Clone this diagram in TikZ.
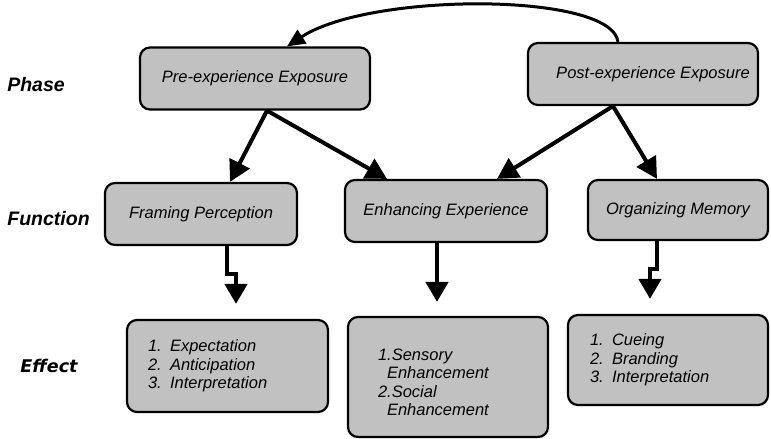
\documentclass[tikz,border=0pt]{standalone}
\usepackage{fontspec}
\setmainfont{Liberation Sans}
\newfontfamily\effectfont{DejaVu Sans}
\usetikzlibrary{arrows.meta,calc}
\definecolor{boxgray}{RGB}{193,193,193}
\begin{document}
\begin{tikzpicture}[x=1pt,y=-1pt,
  box/.style={draw=black, line width=2.2pt, rounded corners=10pt, fill=boxgray,
    font=\fontsize{16.5}{18.5}\selectfont\itshape, inner sep=0pt},
  lbl/.style={font=\fontsize{19.5}{22}\selectfont\bfseries\itshape},
  arr/.style={line width=4pt, -{Triangle[length=21pt,width=22pt]}},
  arrv/.style={line width=4.5pt, -{Triangle[length=20pt,width=22pt]}},
  arrc/.style={line width=3pt, -{Triangle[length=18pt,width=16pt]}},
  ]
\useasboundingbox (0,0) rectangle (771,439);

% row labels
\node[lbl] (phase) at (36,85) {Phase};
\node[lbl] (function) at (48.5,218.5) {Function};
\node[font=\effectfont\fontsize{17.5}{20}\selectfont\bfseries\itshape] (effect) at (49,366) {Effect};

% phase boxes
\node[box, minimum width=230pt, minimum height=62pt] (pre) at (255,78.5) {Pre-experience Exposure};
\node[box, minimum width=230pt, minimum height=62pt] (post) at (643,74) {\hspace*{20pt}Post-experience Exposure};

% function boxes
\node[box, minimum width=192pt, minimum height=62pt] (fp) at (201,214) {Framing Perception};
\node[box, minimum width=202pt, minimum height=62pt] (ee) at (446,211) {Enhancing Experience};
\node[box, minimum width=180pt, minimum height=60pt] (om) at (678,210) {Organizing Memory};

% effect boxes
\node[box, align=left, text width=159pt, inner xsep=21pt, minimum height=92pt] (ef1) at (227.5,366)
  {1. Expectation\\2. Anticipation\\3. Interpretation};
\node[box, align=left, text width=140pt, inner xsep=30pt, minimum height=120pt] (ef2) at (448,377)
  {\rule{0pt}{22pt}1.Sensory\\\hspace*{9pt}Enhancement\\2.Social\\\hspace*{9pt}Enhancement};
\node[box, align=left, text width=156pt, inner xsep=22pt, minimum height=90pt] (ef3) at (668,360)
  {1. Cueing\\2. Branding\\3. Interpretation};

% curved arrow
\draw[arrc] ([xshift=-25pt]post.north) .. controls (612,-8) and (370,-8) .. ([xshift=32pt]pre.north);

% diagonal arrows
\draw[arr] ([xshift=12pt]pre.south) -- ([xshift=29pt]fp.north);
\draw[arr] ([xshift=12pt]pre.south) -- ([xshift=-59pt]ee.north);
\draw[arr] ([xshift=-30pt]post.south) -- ([xshift=51pt]ee.north);
\draw[arr] ([xshift=-30pt]post.south) -- ([xshift=-21pt]om.north);

% vertical arrows
\draw[arrv] ([xshift=26pt]fp.south) -- ++(0,28) -| ([xshift=8.5pt,yshift=15pt]ef1.north);
\draw[arrv] ([xshift=-9pt]ee.south) -- ([xshift=-11pt,yshift=14pt]ef2.north);
\draw[arrv] ([xshift=-21pt]om.south) -- ++(0,28) -| ([xshift=-18pt,yshift=15pt]ef3.north);
\end{tikzpicture}
\end{document}
